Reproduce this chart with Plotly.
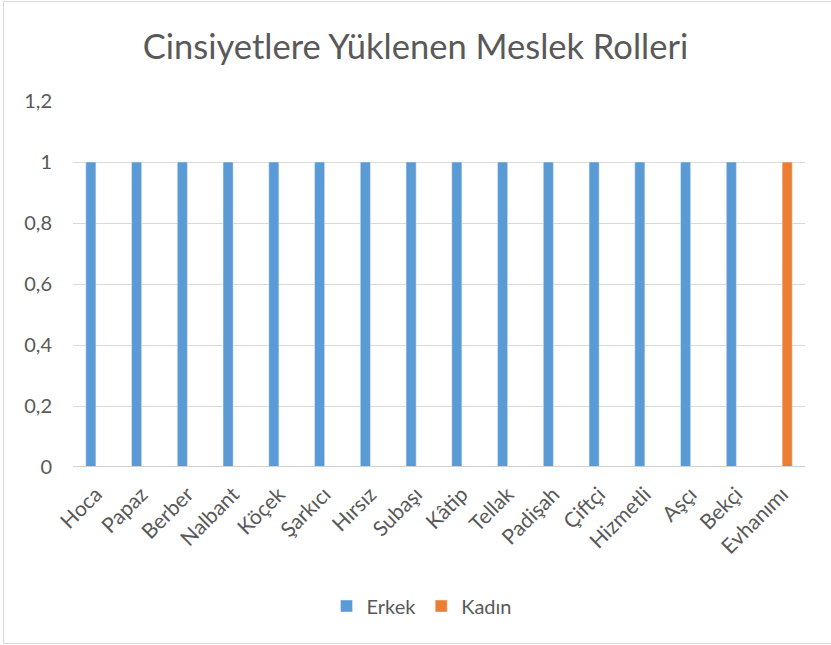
import plotly.graph_objects as go

categories = ["Hoca", "Papaz", "Berber", "Nalbant", "Köçek", "Şarkıcı", "Hırsız", "Subaşı",
              "Kâtip", "Tellak", "Padişah", "Çiftçi", "Hizmetli", "Aşçı", "Bekçi", "Evhanımı"]
erkek = [1, 1, 1, 1, 1, 1, 1, 1, 1, 1, 1, 1, 1, 1, 1, 0]
kadin = [0, 0, 0, 0, 0, 0, 0, 0, 0, 0, 0, 0, 0, 0, 0, 1]
y_ticks = [0, 0.2, 0.4, 0.6, 0.8, 1, 1.2]

FONT = "Lato"
GREY = "#595959"

fig = go.Figure()
fig.add_trace(go.Bar(name="Erkek", x=categories, y=erkek, marker_color="#5B9BD5"))
fig.add_trace(go.Bar(name="Kadın", x=categories, y=kadin, marker_color="#ED7D31"))

W, H = 831, 645
ml, mr, mt, mb = 73, 26, 101, 178
pw, ph = W - ml - mr, H - mt - mb

def px(x):
    return (x - ml) / pw

def py(y):
    return (H - mb - y) / ph

fig.update_layout(
    width=W, height=H,
    margin=dict(l=ml, r=mr, t=mt, b=mb, autoexpand=False),
    paper_bgcolor="white", plot_bgcolor="white",
    separators=", ",
    barmode="group", bargap=0.56, bargroupgap=0,
    font=dict(family=FONT, color=GREY, size=20),
    title=dict(text="Cinsiyetlere Yüklenen Meslek Rolleri", x=0.5, xanchor="center",
               y=1 - 47 / H, yanchor="middle",
               font=dict(family=FONT, size=34.5, color=GREY)),
    xaxis=dict(tickangle=-45, showgrid=False, showline=False, zeroline=False,
               ticks="", automargin=False, ticklabelstandoff=10,
               tickfont=dict(size=21, color=GREY)),
    yaxis=dict(range=[0, 1.2], tickvals=y_ticks, showgrid=True, gridcolor="#D9D9D9",
               gridwidth=1, zeroline=False, showline=False, ticks="", automargin=False,
               ticklabelstandoff=20, tickfont=dict(size=20, color=GREY)),
    legend=dict(orientation="h", x=px(422), xanchor="center", y=py(606), yanchor="middle",
                font=dict(size=20, color=GREY), itemwidth=30, traceorder="normal"),
    shapes=[
        dict(type="line", xref="paper", yref="y", x0=0, x1=1, y0=0, y1=0,
             line=dict(color="#D0D0D0", width=2)),
        dict(type="rect", xref="paper", yref="paper", x0=px(3.5), x1=px(835),
             y0=py(643.5), y1=py(1.5), line=dict(color="#D9D9D9", width=1)),
    ],
)

fig.write_html("out.html", config={"displayModeBar": False},
               post_script="document.body.style.margin='0';")
